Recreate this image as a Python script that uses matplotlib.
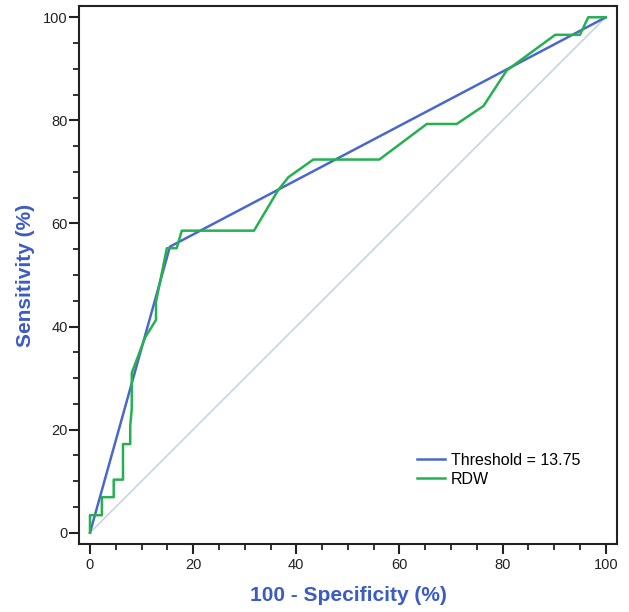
import matplotlib
matplotlib.use("Agg")
import matplotlib.pyplot as plt
from matplotlib.ticker import MultipleLocator

plt.rcParams['font.family'] = ['Liberation Sans', 'DejaVu Sans']

# threshold line (single cut-off point)
thr_x = [0, 15.5, 100]
thr_y = [0, 55.5, 100]

# RDW ROC curve (100 - specificity, sensitivity)
rdw_x = [0, 0, 2.3, 2.3, 4.6, 4.6, 6.4, 6.4, 7.8, 7.8, 8.1, 8.1, 10.7, 12.8, 12.8,
         14.9, 16.8, 17.8, 31.8, 36.5, 38.5, 43.3, 56.1, 65.3, 71.1, 76.3, 80.8,
         90.2, 95.0, 96.6, 100]
rdw_y = [0, 3.4, 3.4, 6.9, 6.9, 10.3, 10.3, 17.2, 17.2, 20.7, 24.1, 31.0, 37.9, 41.3, 44.8,
         55.2, 55.2, 58.6, 58.6, 66.5, 69.0, 72.4, 72.4, 79.3, 79.3, 82.8, 89.7,
         96.6, 96.6, 100, 100]

ticks = [0, 20, 40, 60, 80, 100]
label_blue = '#3a5cc4'

fig = plt.figure(figsize=(6.29, 6.12), dpi=100)
ax = fig.add_axes([0.1261, 0.1106, 0.8544, 0.8796])

ax.plot([0, 100], [0, 100], color='#c9d5dc', lw=1.2)
ax.plot(thr_x, thr_y, color='#4a68cc', lw=1.8, label='Threshold = 13.75')
ax.plot(rdw_x, rdw_y, color='#25b150', lw=1.8, label='RDW')

ax.set_xlim(-2.07, 102.13)
ax.set_ylim(-2.25, 102.19)
ax.set_xticks(ticks)
ax.set_yticks(ticks)
ax.xaxis.set_minor_locator(MultipleLocator(5))
ax.yaxis.set_minor_locator(MultipleLocator(5))
ax.tick_params(which='major', length=7, width=1.5, labelsize=10.5, colors='#222222')
ax.tick_params(axis='x', which='major', pad=3)
ax.tick_params(axis='y', which='major', pad=1.5)
ax.tick_params(which='minor', length=4, width=1.3, colors='#222222')
for s in ax.spines.values():
    s.set_linewidth(1.5)
    s.set_color('#222222')

ax.set_xlabel('100 - Specificity (%)', color=label_blue, fontsize=15, fontweight='bold')
ax.set_ylabel('Sensitivity (%)', color=label_blue, fontsize=15, fontweight='bold')
ax.xaxis.set_label_coords(0.5, -0.0775)
ax.yaxis.set_label_coords(-0.0824, 0.5)

ax.legend(loc='upper left', bbox_to_anchor=(0.628, 0.1696), bbox_transform=ax.transAxes,
          frameon=False, fontsize=11.5, borderpad=0, borderaxespad=0,
          handlelength=1.75, handletextpad=0.4, labelspacing=0.25)

fig.savefig('out.png', dpi=100, facecolor='white')
